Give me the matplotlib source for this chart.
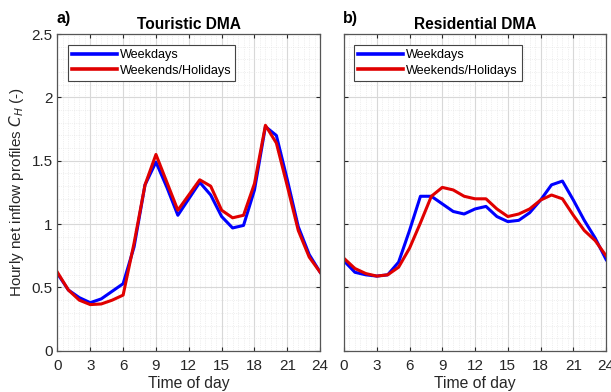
import numpy as np
import matplotlib
matplotlib.use("Agg")
from matplotlib import pyplot as plt
from matplotlib.ticker import MultipleLocator

hours = np.arange(0, 25)

tour_weekdays = [0.61, 0.48, 0.42, 0.38, 0.41, 0.47, 0.53, 0.82, 1.31, 1.49, 1.29, 1.07,
                 1.20, 1.33, 1.23, 1.06, 0.97, 0.99, 1.27, 1.77, 1.70, 1.35, 0.98, 0.76, 0.62]
tour_weekends = [0.62, 0.48, 0.40, 0.365, 0.37, 0.40, 0.44, 0.85, 1.31, 1.55, 1.33, 1.11,
                 1.23, 1.35, 1.30, 1.11, 1.05, 1.07, 1.32, 1.78, 1.64, 1.30, 0.95, 0.74, 0.62]

res_weekdays = [0.71, 0.62, 0.60, 0.59, 0.60, 0.70, 0.95, 1.22, 1.22, 1.16, 1.10, 1.08,
                1.12, 1.14, 1.06, 1.02, 1.03, 1.09, 1.19, 1.31, 1.34, 1.19, 1.03, 0.89, 0.72]
res_weekends = [0.73, 0.65, 0.61, 0.59, 0.60, 0.66, 0.81, 1.01, 1.22, 1.29, 1.27, 1.22,
                1.20, 1.20, 1.12, 1.06, 1.08, 1.12, 1.19, 1.23, 1.20, 1.07, 0.95, 0.87, 0.75]

panels = [
    ("a)", "Touristic DMA", tour_weekdays, tour_weekends),
    ("b)", "Residential DMA", res_weekdays, res_weekends),
]

plt.rcParams["font.family"] = ["Liberation Sans", "DejaVu Sans"]

fig = plt.figure(figsize=(6.11, 3.92), dpi=100)
positions = [[0.094, 0.105, 0.430, 0.808], [0.563, 0.105, 0.429, 0.808]]

for i, (tag, title, wd, we) in enumerate(panels):
    ax = fig.add_axes(positions[i])
    ax.plot(hours, wd, color="#0000ff", lw=2.2, label="Weekdays")
    ax.plot(hours, we, color="#e00000", lw=2.2, label="Weekends/Holidays")
    ax.set_xlim(0, 24)
    ax.set_ylim(0, 2.5)
    ax.set_xticks(np.arange(0, 25, 3))
    ax.set_yticks([0, 0.5, 1, 1.5, 2, 2.5])
    ax.xaxis.set_minor_locator(MultipleLocator(0.5))
    ax.yaxis.set_minor_locator(MultipleLocator(0.1))
    ax.grid(which="major", color="#d8d8d8", lw=0.8)
    ax.grid(which="minor", color="#e2e2e2", lw=0.5, ls=":")
    ax.set_axisbelow(True)
    ax.tick_params(which="both", direction="in", top=True, right=True,
                   labelsize=11, colors="#262626")
    ax.tick_params(which="minor", length=0)
    ax.tick_params(which="major", length=3)
    ax.tick_params(axis="x", pad=6)
    for s in ax.spines.values():
        s.set_color("#555555")
        s.set_linewidth(0.9)
    ax.set_xlabel("Time of day", fontsize=11.3, color="#262626", labelpad=2)
    if i == 0:
        ax.set_ylabel("Hourly net inflow profiles $C_H$ (-)", fontsize=11, color="#262626")
        ax.set_yticklabels(["0", "0.5", "1", "1.5", "2", "2.5"])
    else:
        ax.set_yticklabels([])
    ax.set_title(title, fontsize=11.2, fontweight="bold", pad=4)
    ax.text(-0.005, 1.025, tag, transform=ax.transAxes, fontsize=11.5, fontweight="bold",
            ha="left", va="bottom")
    leg = ax.legend(loc="upper left", bbox_to_anchor=(0.04, 0.965), borderaxespad=0,
                    fontsize=9.1, handlelength=3.55, handletextpad=0.25, borderpad=0.3,
                    labelspacing=0.3, fancybox=False, framealpha=1)
    leg.get_frame().set_edgecolor("#444444")
    leg.get_frame().set_linewidth(0.8)
    for line in leg.get_lines():
        line.set_linewidth(2.6)

fig.savefig("out.png", dpi=100)
